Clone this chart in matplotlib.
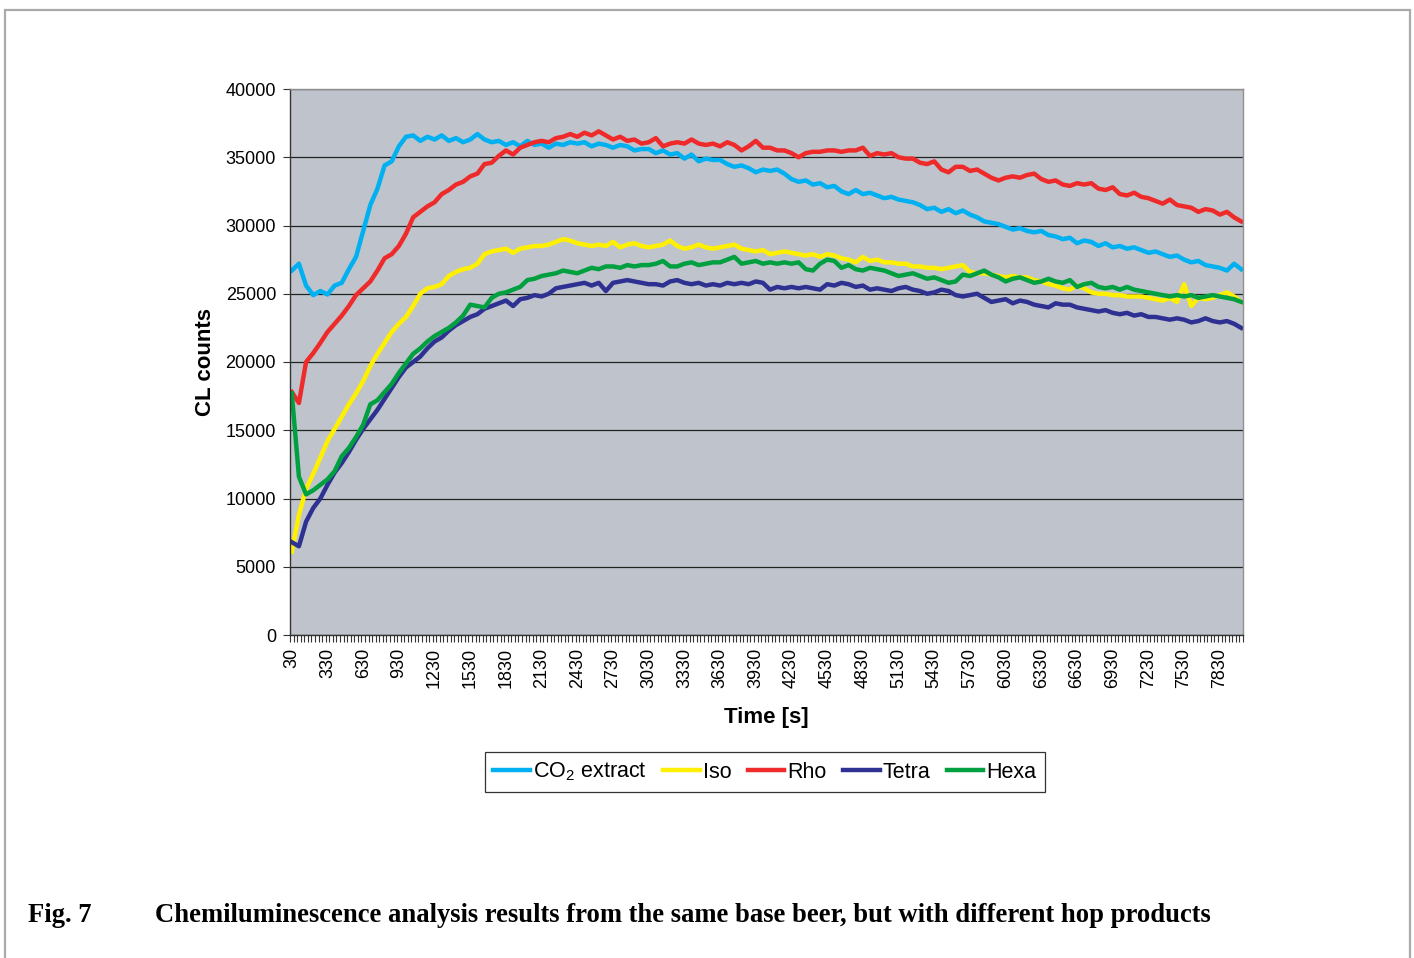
import matplotlib
matplotlib.use("Agg")
import matplotlib.pyplot as plt
from matplotlib.patches import Rectangle
from matplotlib.ticker import FixedLocator
import numpy as np

plt.rcParams['font.family'] = ['Liberation Sans', 'DejaVu Sans']
plt.rcParams['mathtext.fontset'] = 'custom'
plt.rcParams['mathtext.rm'] = 'Liberation Sans'
plt.rcParams['mathtext.it'] = 'Liberation Sans:italic'

# time points [s]
time_s = list(range(30, 8011, 60))

co2_extract = [
    26700, 27200, 25600, 24900, 25200, 24950, 25600, 25800, 26800, 27700,
    29600, 31500, 32700, 34400, 34700, 35800, 36500, 36600, 36200, 36500,
    36300, 36600, 36200, 36400, 36100, 36300, 36700, 36300, 36100, 36200,
    35900, 36100, 35800, 36200, 35900, 36000, 35700, 36000, 35900, 36100,
    36000, 36100, 35800, 36000, 35900, 35700, 35900, 35800, 35500, 35600,
    35600, 35300, 35500, 35200, 35300, 34900, 35200, 34700, 34900, 34800,
    34800, 34500, 34300, 34400, 34200, 33900, 34100, 34000, 34100, 33800,
    33400, 33200, 33300, 33000, 33100, 32800, 32900, 32500, 32300, 32600,
    32300, 32400, 32200, 32000, 32100, 31900, 31800, 31700, 31500, 31200,
    31300, 31000, 31200, 30900, 31100, 30800, 30600, 30300, 30200, 30100,
    29900, 29700, 29800, 29600, 29500, 29600, 29300, 29200, 29000, 29100,
    28700, 28900, 28800, 28500, 28700, 28400, 28500, 28300, 28400, 28200,
    28000, 28100, 27900, 27700, 27800, 27500, 27300, 27400, 27100, 27000,
    26900, 26700, 27200, 26800]

iso = [
    6100, 8800, 10700, 11800, 13000, 14200, 15100, 16000, 16900, 17700,
    18600, 19700, 20600, 21400, 22200, 22800, 23300, 24100, 25000, 25400,
    25500, 25700, 26300, 26600, 26800, 26900, 27200, 27900, 28100, 28200,
    28300, 28000, 28300, 28400, 28500, 28500, 28600, 28800, 29000, 28900,
    28700, 28600, 28500, 28600, 28500, 28800, 28400, 28600, 28700, 28500,
    28400, 28500, 28600, 28900, 28500, 28300, 28400, 28600, 28400, 28300,
    28400, 28500, 28600, 28300, 28200, 28100, 28200, 27900, 28000, 28100,
    28000, 27900, 27800, 27900, 27700, 27900, 27800, 27600, 27500, 27300,
    27700, 27400, 27500, 27300, 27300, 27200, 27200, 27000, 27000, 26900,
    26900, 26800, 26900, 27000, 27100, 26600, 26500, 26500, 26400, 26300,
    26200, 26300, 26200, 26200, 26000, 25900, 25700, 25600, 25400, 25300,
    25600, 25400, 25100, 25000, 25000, 24900, 24900, 24800, 24800, 24800,
    24700, 24600, 24500, 24700, 24400, 25700, 24100, 24700, 24600, 24700,
    24900, 25100, 24800, 24400]

rho = [
    17800, 17000, 20000, 20650, 21400, 22200, 22800, 23400, 24100, 24900,
    25400, 25900, 26700, 27600, 27900, 28500, 29400, 30600, 31000, 31400,
    31700, 32300, 32600, 33000, 33200, 33600, 33800, 34500, 34600, 35100,
    35500, 35200, 35700, 35900, 36100, 36200, 36100, 36400, 36500, 36700,
    36500, 36800, 36600, 36900, 36600, 36300, 36500, 36200, 36300, 36000,
    36100, 36400, 35800, 36000, 36100, 36000, 36300, 36000, 35900, 36000,
    35800, 36100, 35900, 35500, 35800, 36200, 35700, 35700, 35500, 35500,
    35300, 35000, 35300, 35400, 35400, 35500, 35500, 35400, 35500, 35500,
    35700, 35100, 35300, 35200, 35300, 35000, 34900, 34900, 34600, 34500,
    34700, 34100, 33900, 34300, 34300, 34000, 34100, 33800, 33500, 33300,
    33500, 33600, 33500, 33700, 33800, 33400, 33200, 33300, 33000, 32900,
    33100, 33000, 33100, 32700, 32600, 32800, 32300, 32200, 32400, 32100,
    32000, 31800, 31600, 31900, 31500, 31400, 31300, 31000, 31200, 31100,
    30800, 31000, 30600, 30300]

tetra = [
    6800, 6500, 8300, 9300, 10000, 11000, 11900, 12600, 13400, 14300,
    15100, 15800, 16500, 17300, 18100, 18900, 19600, 20000, 20400, 21000,
    21500, 21800, 22300, 22700, 23000, 23300, 23500, 23900, 24100, 24300,
    24500, 24100, 24600, 24700, 24900, 24800, 25000, 25400, 25500, 25600,
    25700, 25800, 25600, 25800, 25200, 25800, 25900, 26000, 25900, 25800,
    25700, 25700, 25600, 25900, 26000, 25800, 25700, 25800, 25600, 25700,
    25600, 25800, 25700, 25800, 25700, 25900, 25800, 25300, 25500, 25400,
    25500, 25400, 25500, 25400, 25300, 25700, 25600, 25800, 25700, 25500,
    25600, 25300, 25400, 25300, 25200, 25400, 25500, 25300, 25200, 25000,
    25100, 25300, 25200, 24900, 24800, 24900, 25000, 24700, 24400, 24500,
    24600, 24300, 24500, 24400, 24200, 24100, 24000, 24300, 24200, 24200,
    24000, 23900, 23800, 23700, 23800, 23600, 23500, 23600, 23400, 23500,
    23300, 23300, 23200, 23100, 23200, 23100, 22900, 23000, 23200, 23000,
    22900, 23000, 22800, 22500]

hexa = [
    17700, 11600, 10300, 10600, 11000, 11400, 12000, 13100, 13700, 14500,
    15400, 16900, 17200, 17800, 18400, 19200, 19900, 20600, 21000, 21500,
    21900, 22200, 22500, 22900, 23400, 24200, 24100, 24000, 24700, 25000,
    25100, 25300, 25500, 26000, 26100, 26300, 26400, 26500, 26700, 26600,
    26500, 26700, 26900, 26800, 27000, 27000, 26900, 27100, 27000, 27100,
    27100, 27200, 27400, 27000, 27000, 27200, 27300, 27100, 27200, 27300,
    27300, 27500, 27700, 27200, 27300, 27400, 27200, 27300, 27200, 27300,
    27200, 27300, 26800, 26700, 27200, 27500, 27400, 26900, 27100, 26800,
    26700, 26900, 26800, 26700, 26500, 26300, 26400, 26500, 26300, 26100,
    26200, 26000, 25800, 25900, 26400, 26300, 26500, 26700, 26400, 26200,
    25900, 26100, 26200, 26000, 25800, 25900, 26100, 25900, 25800, 26000,
    25500, 25700, 25800, 25500, 25400, 25500, 25300, 25500, 25300, 25200,
    25100, 25000, 24900, 24800, 24900, 24800, 24900, 24700, 24800, 24900,
    24800, 24700, 24600, 24400]

series_names = ["CO$_2$ extract", "Iso", "Rho", "Tetra", "Hexa"]
series_values = [co2_extract, iso, rho, tetra, hexa]
series_colors = ["#00B0F0", "#FFF000", "#EE2A2A", "#2E3192", "#00A040"]

x_tick_labels = list(range(30, 7831, 300))
y_ticks = list(range(0, 40001, 5000))

W, H = 1414, 958
fig = plt.figure(figsize=(W / 100, H / 100), dpi=100)
fig.patch.set_facecolor("white")

# outer page frame
fig.patches.append(Rectangle((5 / W, -0.05), 1405 / W, 1.05 - 10 / H,
                             transform=fig.transFigure, fill=False,
                             edgecolor="#AAAAAA", linewidth=1.6))

ax = fig.add_axes([290 / W, 1 - 635 / H, (1243 - 290) / W, (635 - 89) / H])
ax.set_facecolor("#BFC4CC")

for name, vals, col in zip(series_names, series_values, series_colors):
    ax.plot(time_s, vals, color=col, lw=3.2, label=name, solid_joinstyle="round")

ax.set_xlim(15, 8025)
ax.set_ylim(0, 40000)

ax.yaxis.set_major_locator(FixedLocator(y_ticks))
ax.set_yticklabels([str(v) for v in y_ticks], fontsize=13)
ax.grid(axis="y", color="#222222", lw=0.9)
ax.set_axisbelow(True)

ax.xaxis.set_major_locator(FixedLocator(x_tick_labels))
ax.set_xticklabels([str(v) for v in x_tick_labels], rotation=90, fontsize=13)
ax.xaxis.set_minor_locator(FixedLocator(np.arange(15, 8026, 30)))
ax.tick_params(axis="x", which="major", length=0, pad=9)
ax.tick_params(axis="x", which="minor", length=5, width=0.8, color="#333333")
ax.tick_params(axis="y", which="major", length=5, width=0.8, color="#333333", pad=5)

for side in ["left", "bottom"]:
    ax.spines[side].set_color("#333333")
    ax.spines[side].set_linewidth(1.0)
for side in ["top", "right"]:
    ax.spines[side].set_color("#909090")
    ax.spines[side].set_linewidth(1.0)

ax.set_xlabel("Time [s]", fontsize=16, fontweight="bold", labelpad=14)
ax.set_ylabel("CL counts", fontsize=16, fontweight="bold", labelpad=7)

leg = fig.legend(loc="center", bbox_to_anchor=(765 / W, 1 - 772 / H), ncol=5,
                 fontsize=15.5, frameon=True, fancybox=False, shadow=False,
                 handlelength=1.7, handletextpad=0.15, columnspacing=0.75,
                 borderpad=0.4, edgecolor="black", borderaxespad=0)
leg.get_frame().set_linewidth(0.9)

fig.text(28 / W, 1 - 915 / H, "Fig. 7", fontsize=19.2, fontweight="bold",
         family=["Liberation Serif", "DejaVu Serif"], va="center", ha="left")
fig.text(155 / W, 1 - 915 / H,
         "Chemiluminescence analysis results from the same base beer, but with different hop products",
         fontsize=19.2, fontweight="bold", family=["Liberation Serif", "DejaVu Serif"],
         va="center", ha="left")

fig.savefig("out.png", dpi=100)
